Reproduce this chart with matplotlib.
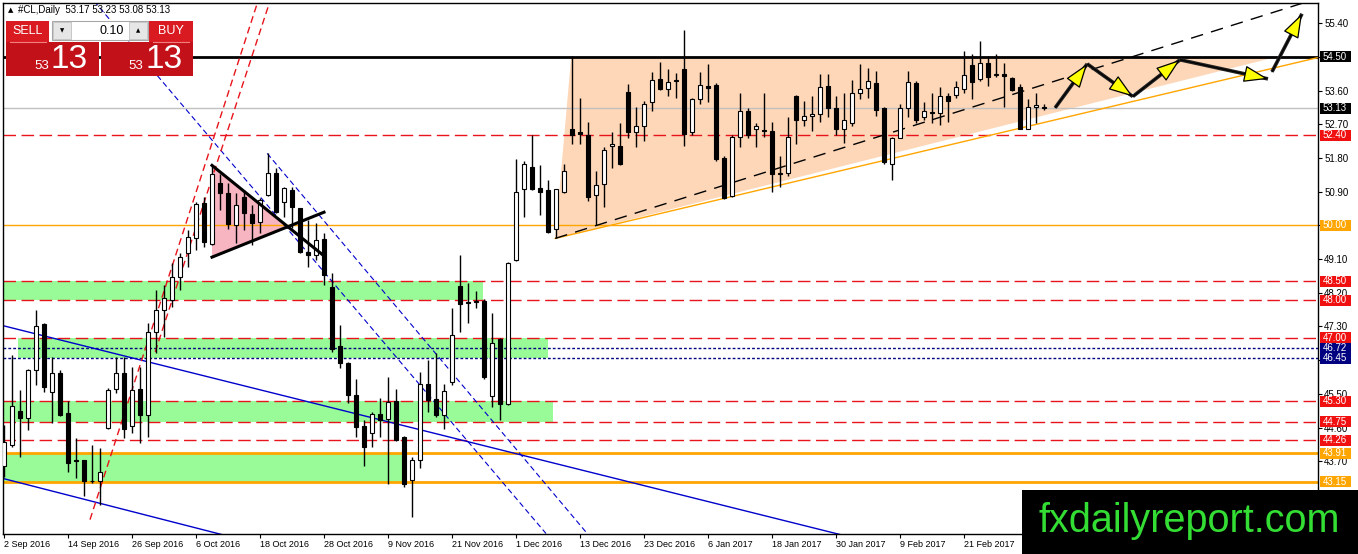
import matplotlib.pyplot as plt
from matplotlib.patches import Polygon, Rectangle

plt.rcParams['font.family'] = ['Liberation Sans', 'DejaVu Sans']

# daily candles, #CL (2 Sep 2016 .. 24 Feb 2017)
opens = [43.56, 44.14, 45.05, 44.86, 46.14, 47.36, 45.55, 46.06, 44.99, 43.72,
         43.72, 43.18, 43.16, 44.59, 45.63, 46.06, 44.65, 45.63, 44.94, 47.15,
         47.74, 48.00, 48.62, 49.25, 49.65, 50.59, 49.49, 51.12, 50.85, 50.00,
         50.75, 50.29, 50.08, 50.80, 51.41, 50.61, 50.93, 50.45, 49.28, 49.20,
         49.63, 48.35, 46.78, 46.33, 45.47, 44.65, 44.46, 44.97, 44.83, 45.31,
         44.35, 43.21, 43.74, 45.77, 45.37, 44.94, 45.82, 48.38, 47.95, 47.95,
         47.98, 45.45, 46.96, 45.23, 49.07, 50.96, 51.57, 50.99, 50.93, 49.89,
         50.88, 52.58, 52.50, 52.42, 50.80, 51.09, 52.13, 52.13, 53.57, 52.50,
         52.66, 53.30, 53.91, 53.65, 53.86, 54.18, 52.50, 53.38, 53.73, 53.75,
         51.81, 50.77, 52.37, 53.06, 52.56, 52.55, 52.53, 51.38, 51.41, 53.44,
         52.82, 52.93, 52.96, 53.73, 53.14, 52.58, 52.74, 53.54, 53.67, 53.81,
         53.14, 51.65, 52.34, 53.14, 53.81, 52.90, 53.02, 53.01, 53.46, 53.49,
         53.65, 54.29, 53.91, 54.34, 54.02, 54.05, 53.94, 53.70, 52.58, 53.17,
         53.17]
highs = [44.67, 46.54, 45.61, 46.17, 47.74, 47.40, 46.48, 46.14, 45.31, 44.33,
         43.74, 44.14, 44.06, 45.66, 46.48, 46.48, 46.22, 46.22, 47.39, 48.27,
         48.40, 48.99, 49.25, 49.87, 50.61, 50.75, 51.60, 51.38, 51.12, 50.85,
         50.93, 50.53, 50.72, 51.92, 51.54, 51.01, 51.01, 50.47, 50.13, 50.05,
         49.79, 48.72, 47.34, 46.35, 45.90, 44.81, 45.02, 45.39, 45.95, 45.63,
         44.37, 43.82, 46.09, 46.40, 46.59, 45.77, 47.79, 49.20, 48.46, 48.24,
         48.03, 47.66, 46.98, 49.01, 51.78, 51.73, 52.40, 51.60, 51.20, 50.98,
         51.65, 54.53, 53.41, 52.77, 51.46, 52.08, 52.50, 52.74, 53.78, 53.17,
         53.33, 54.10, 54.37, 54.18, 54.07, 55.22, 53.41, 54.10, 54.31, 53.81,
         51.84, 52.40, 53.52, 53.14, 52.74, 53.52, 52.77, 51.86, 52.90, 53.49,
         53.33, 53.46, 54.05, 54.05, 53.46, 53.54, 53.89, 54.31, 54.21, 54.13,
         53.16, 52.37, 53.25, 54.13, 53.86, 53.28, 53.52, 53.70, 53.54, 53.86,
         54.66, 54.58, 54.93, 54.53, 54.58, 54.34, 53.96, 53.78, 53.38, 53.54,
         53.23]
lows = [43.29, 44.09, 43.82, 44.54, 45.74, 45.55, 44.73, 44.90, 43.42, 43.26,
        42.76, 43.12, 42.52, 44.55, 45.53, 44.33, 44.46, 44.19, 44.35, 46.59,
        47.02, 47.82, 48.27, 48.88, 49.33, 49.41, 49.47, 50.40, 49.89, 49.52,
        49.87, 49.47, 49.79, 50.78, 50.33, 50.21, 49.92, 49.25, 48.88, 49.07,
        48.40, 46.62, 46.19, 45.26, 44.35, 43.56, 44.09, 44.35, 43.08, 44.25,
        43.02, 42.22, 43.53, 45.02, 44.89, 44.57, 45.74, 47.15, 47.39, 47.79,
        45.90, 45.15, 44.81, 45.21, 49.05, 50.21, 50.94, 50.27, 49.79, 49.65,
        50.85, 52.18, 52.18, 50.64, 50.00, 50.48, 51.52, 51.62, 52.32, 52.08,
        52.26, 53.04, 53.62, 53.46, 53.41, 52.13, 52.40, 53.25, 53.30, 51.73,
        50.70, 50.75, 52.08, 52.34, 52.08, 52.37, 50.88, 51.01, 51.33, 52.18,
        52.64, 52.53, 52.77, 52.88, 52.40, 52.21, 52.64, 53.36, 53.41, 52.93,
        51.65, 51.20, 52.32, 52.88, 52.74, 52.80, 52.72, 52.69, 52.77, 53.41,
        53.54, 53.38, 53.86, 53.73, 53.97, 53.17, 53.60, 52.56, 52.56, 52.74,
        53.08]
closes = [44.22, 45.18, 44.86, 46.14, 47.31, 45.69, 46.06, 44.94, 43.64, 43.70,
          43.18, 43.16, 43.40, 45.61, 46.06, 44.57, 45.61, 44.94, 47.15, 47.74,
          48.06, 48.62, 49.15, 49.68, 50.56, 49.55, 51.38, 50.85, 50.03, 50.53,
          50.32, 50.05, 50.67, 51.41, 50.35, 50.99, 50.48, 49.28, 49.20, 49.60,
          48.67, 46.70, 46.33, 45.47, 44.62, 44.09, 44.97, 44.81, 45.29, 44.27,
          43.08, 43.72, 45.77, 45.34, 44.94, 45.58, 47.07, 47.90, 47.92, 47.98,
          45.95, 46.86, 45.23, 48.99, 50.88, 51.65, 50.96, 50.88, 49.81, 50.96,
          51.44, 52.40, 52.45, 50.75, 51.07, 52.02, 52.16, 51.65, 52.48, 52.66,
          53.25, 53.89, 53.65, 53.83, 53.89, 52.45, 53.36, 53.75, 53.67, 51.76,
          50.72, 52.37, 53.04, 52.40, 52.64, 52.53, 51.38, 51.40, 52.37, 52.80,
          52.93, 52.96, 53.70, 53.14, 52.56, 52.80, 53.54, 53.65, 53.86, 53.09,
          51.70, 52.34, 53.14, 53.83, 52.82, 53.04, 53.01, 53.46, 53.33, 53.70,
          54.02, 53.83, 54.34, 53.97, 54.05, 53.99, 53.62, 52.58, 53.17, 53.20,
          53.13]

date_labels = ['2 Sep 2016', '14 Sep 2016', '26 Sep 2016', '6 Oct 2016', '18 Oct 2016',
               '28 Oct 2016', '9 Nov 2016', '21 Nov 2016', '1 Dec 2016', '13 Dec 2016',
               '23 Dec 2016', '6 Jan 2017', '18 Jan 2017', '30 Jan 2017', '9 Feb 2017',
               '21 Feb 2017']
date_bars = [0, 8, 16, 24, 32, 40, 48, 56, 64, 72, 80, 88, 96, 104, 112, 120]
price_ticks = [55.40, 54.50, 53.60, 52.70, 51.80, 50.90, 50.00, 49.10, 48.20,
               47.30, 46.40, 45.50, 44.60, 43.70, 42.80]

# horizontal levels
red_levels = [52.40, 48.50, 48.00, 47.00, 45.30, 44.75, 44.26]
navy_levels = [46.72, 46.45]
orange_levels = [43.91, 43.15]
level_50 = 50.00
level_545 = 54.50
bid = 53.13

# green zones
zone_lo = [48.00, 46.45, 44.75, 43.15]
zone_hi = [48.50, 47.00, 45.30, 43.91]
zone_start = [-0.2, 1.75, -0.2, -0.2]
zone_end = [59.9, 68.0, 68.6, 49.75]

# drawn objects (bar index, price)
peach_x = [68.9, 70.9, 159.1]
peach_y = [49.65, 54.50, 54.50]
support_x = [68.9, 164.25]
support_y = [49.65, 54.48]
channel_x = [68.9, 166.0]
channel_y = [49.65, 56.18]
pink_x = [26.0, 26.0, 35.5]
pink_y = [51.60, 49.15, 49.96]
pennant_top_x = [26.0, 39.9]
pennant_top_y = [51.60, 49.20]
pennant_bot_x = [26.0, 40.0]
pennant_bot_y = [49.15, 50.35]
blue1_x = [-0.5, 110.0]
blue1_y = [47.34, 41.45]
blue2_x = [-0.5, 30.0]
blue2_y = [43.26, 41.59]
bluedash1_x = [11.25, 67.75]
bluedash1_y = [55.99, 41.77]
bluedash2_x = [32.9, 72.9]
bluedash2_y = [51.92, 41.77]
redA_x = [10.75, 31.75]
redA_y = [42.14, 55.99]
redB_x = [18.9, 33.25]
redB_y = [46.62, 55.99]
path_x = [131.4, 135.4, 141.1, 147.0, 158.0]
path_y = [53.14, 54.31, 53.44, 54.42, 53.91]
last_x = [158.5, 162.25]
last_y = [54.10, 55.65]

W, H = 1358, 554
fig = plt.figure(figsize=(W / 100, H / 100), dpi=100)
fig.patch.set_facecolor('white')
x0, x1, ytop, ybot = 3, 1318, 2.5, 533.5
ax = fig.add_axes([x0 / W, (H - ybot) / H, (x1 - x0) / W, (ybot - ytop) / H])
ax.set_xlim(-0.125, 164.25)
ax.set_ylim(41.77, 55.95)

# zones and shapes
for lo, hi, s, e in zip(zone_lo, zone_hi, zone_start, zone_end):
    ax.add_patch(Rectangle((s, lo), e - s, hi - lo, fc='#98FB98', ec='none', zorder=0.5))
ax.add_patch(Polygon(list(zip(peach_x, peach_y)), closed=True, fc='#FDD7B8', ec='none', zorder=0.5))
ax.add_patch(Polygon(list(zip(pink_x, pink_y)), closed=True, fc='#F7B4C1', ec='none', zorder=0.6))

# horizontal lines
for lv in red_levels:
    ax.axhline(lv, color='#E8141C', lw=1, dashes=(9, 4), zorder=1)
for lv in navy_levels:
    ax.axhline(lv, color='#000080', lw=1, dashes=(2, 1.5), zorder=1)
for lv in orange_levels:
    ax.axhline(lv, color='#FFA500', lw=2, zorder=1)
ax.axhline(level_50, color='#FFA500', lw=1, zorder=1)
ax.axhline(bid, color='#C0C0C0', lw=1, zorder=1)
ax.axhline(level_545, color='black', lw=2, zorder=1)

# trendlines
ax.plot(blue1_x, blue1_y, color='#0000CC', lw=1, zorder=1)
ax.plot(blue2_x, blue2_y, color='#0000CC', lw=1, zorder=1)
ax.plot(bluedash1_x, bluedash1_y, color='#0000CC', lw=0.8, dashes=(5, 3), zorder=1)
ax.plot(bluedash2_x, bluedash2_y, color='#0000CC', lw=0.8, dashes=(5, 3), zorder=1)
ax.plot(redA_x, redA_y, color='#E8141C', lw=1, dashes=(5, 3), zorder=1)
ax.plot(redB_x, redB_y, color='#E8141C', lw=1, dashes=(5, 3), zorder=1)
ax.plot(support_x, support_y, color='#FFA500', lw=1, zorder=1)
ax.plot(channel_x, channel_y, color='black', lw=1, dashes=(9, 6), zorder=1)

# candles
n = len(opens)
bars = list(range(n))
ax.vlines(bars, lows, highs, color='black', lw=1, zorder=2)
for i in bars:
    o, c = opens[i], closes[i]
    lo, hi = min(o, c), max(o, c)
    ht = max(hi - lo, 0.015)
    fc = 'white' if c >= o else 'black'
    ax.add_patch(Rectangle((i - 0.3, lo), 0.6, ht, fc=fc, ec='black', lw=0.8, zorder=3))

# pennant lines
ax.plot(pennant_top_x, pennant_top_y, color='black', lw=2.2, zorder=4)
ax.plot(pennant_bot_x, pennant_bot_y, color='black', lw=2.2, zorder=4)

# projected path arrows
def arrow(xa, ya, xb, yb):
    ax.plot([xa, xb], [ya, yb], color='#222222', lw=2.6, zorder=5, solid_capstyle='butt')
    ax.annotate('', xy=(xb, yb), xytext=(xa, ya), zorder=6,
                arrowprops=dict(arrowstyle='-|>,head_length=1.1,head_width=0.38',
                                mutation_scale=14, fc='#FFFF00', ec='black', lw=0.9,
                                shrinkA=0, shrinkB=0))

for k in range(len(path_x) - 1):
    arrow(path_x[k], path_y[k], path_x[k + 1], path_y[k + 1])
arrow(last_x[0], last_y[0], last_x[1], last_y[1])

# axes styling
for sp in ax.spines.values():
    sp.set_color('black')
    sp.set_linewidth(1)
ax.yaxis.tick_right()
ax.set_yticks(price_ticks)
ax.set_yticklabels([f'{v:.2f}' for v in price_ticks])
ax.set_xticks(date_bars)
ax.set_xticklabels(date_labels, ha='left')
ax.tick_params(axis='y', length=3, width=0.8, labelsize=7, pad=1.5)
ax.tick_params(axis='x', length=3, width=0.8, labelsize=6.5, pad=1.5)

# boxed price labels on the right scale
px_w = x1 - x0
tag_h = 11 * (55.95 - 41.77) / (ybot - ytop)
def tag(level, fc, tc='white'):
    tr = ax.get_yaxis_transform()
    ax.add_patch(Rectangle((1 + 2 / px_w, level - tag_h / 2), 31 / px_w, tag_h, transform=tr,
                           fc=fc, ec='none', clip_on=False, zorder=9))
    ax.text(1 + 4.5 / px_w, level, f'{level:.2f}', transform=tr, ha='left', va='center',
            fontsize=7, color=tc, clip_on=False, zorder=10)

for lv in red_levels:
    tag(lv, '#F01010')
for lv in navy_levels:
    tag(lv, '#000080')
for lv in orange_levels + [level_50]:
    tag(lv, '#FFA500')
tag(level_545, 'black')
tag(bid, 'black')

# overlay in pixel coordinates: header, trade panel, watermark
ov = fig.add_axes([0, 0, 1, 1], zorder=10)
ov.set_xlim(0, W)
ov.set_ylim(H, 0)
ov.axis('off')
ov.patch.set_visible(False)

ov.text(8, 10, '\u25B2', fontsize=5, va='center', ha='left', family='DejaVu Sans')
ov.text(18, 10, '#CL,Daily  53.17 53.23 53.08 53.13', fontsize=7, va='center', ha='left')

ov.add_patch(Rectangle((6, 21), 43, 21, fc='#D91A21', ec='none'))
ov.add_patch(Rectangle((6, 42), 93, 34, fc='#C3111A', ec='none'))
ov.add_patch(Rectangle((149, 21), 44, 21, fc='#D91A21', ec='none'))
ov.add_patch(Rectangle((101, 42), 92, 34, fc='#C3111A', ec='none'))
ov.plot([10, 46], [42, 42], color='#F08080', lw=0.8)
ov.plot([153, 189], [42, 42], color='#F08080', lw=0.8)
ov.add_patch(Rectangle((52, 21), 96, 19, fc='white', ec='#A8A8A8', lw=0.8))
ov.add_patch(Rectangle((53, 22), 18, 17, fc='#E6E6E6', ec='#C0C0C0', lw=0.6))
ov.add_patch(Rectangle((129, 22), 18, 17, fc='#E6E6E6', ec='#C0C0C0', lw=0.6))
ov.text(62, 30.5, '\u25BC', fontsize=4, ha='center', va='center', family='DejaVu Sans')
ov.text(138, 30.5, '\u25B2', fontsize=4, ha='center', va='center', family='DejaVu Sans')
ov.text(124, 30.5, '0.10', fontsize=9, ha='right', va='center')
ov.text(27.5, 31, 'SELL', fontsize=9, color='white', ha='center', va='center')
ov.text(171, 31, 'BUY', fontsize=9, color='white', ha='center', va='center')
ov.text(42, 66, '53', fontsize=9.5, color='white', ha='center', va='center')
ov.text(69, 59, '13', fontsize=24, color='white', ha='center', va='center')
ov.text(136, 66, '53', fontsize=9.5, color='white', ha='center', va='center')
ov.text(164, 59, '13', fontsize=24, color='white', ha='center', va='center')

ov.add_patch(Rectangle((1022, 490), 336, 64, fc='black', ec='none'))
ov.text(1189, 521, 'fxdailyreport.com', fontsize=28.5, color='#33DD33',
        ha='center', va='center')

fig.savefig('out.png', dpi=100)
